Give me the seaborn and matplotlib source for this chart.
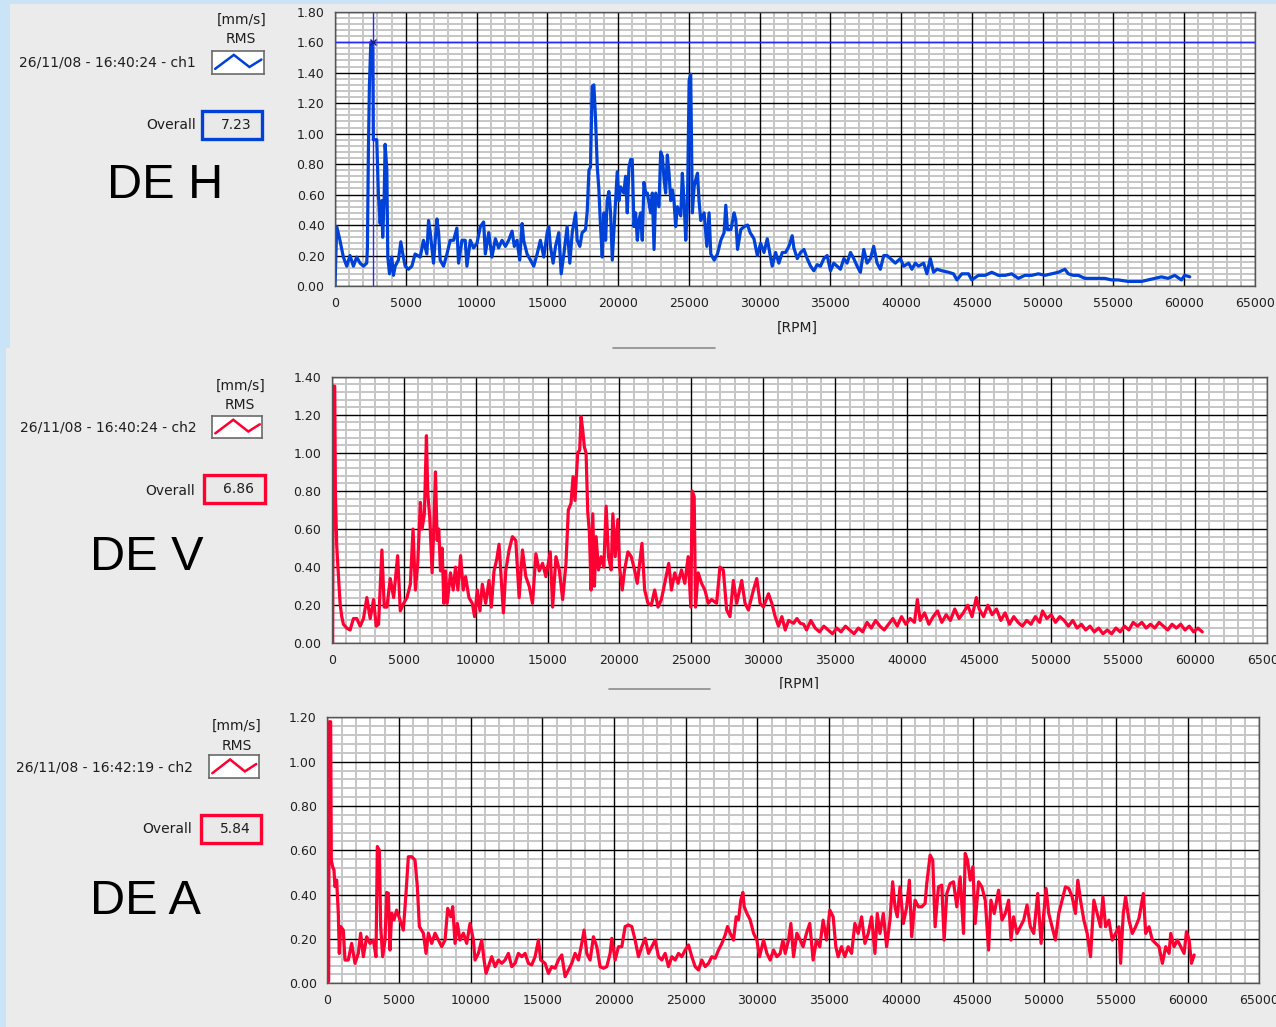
import numpy as np
import pandas as pd
import matplotlib
matplotlib.use("Agg")
import matplotlib.pyplot as plt
import seaborn as sns
from matplotlib.patches import Rectangle
from matplotlib.lines import Line2D

# ---------------- data ----------------
# DE H  (ch1, blue)
h_rpm = [0, 120, 350, 590, 830, 1060, 1300, 1530, 1770, 2010, 2240, 2290, 2360, 2430, 2530, 2670,
         2710, 2830, 2950, 3070, 3190, 3300, 3370, 3470, 3540, 3660, 3730, 3850, 4010, 4130, 4250,
         4480, 4650, 4790, 4960, 5190, 5430, 5660, 6020, 6250, 6490, 6610, 6730, 6960, 7080, 7200,
         7320, 7430, 7670, 7910, 8140, 8380, 8610, 8730, 8970, 9200, 9320, 9560, 9790, 10030, 10270,
         10500, 10620, 10860, 11090, 11330, 11560, 11800, 12040, 12270, 12510, 12670, 12860, 13050,
         13220, 13330, 13570, 13810, 14040, 14280, 14510, 14750, 14990, 15100, 15220, 15410, 15580,
         15810, 15980, 16170, 16400, 16590, 16760, 17000, 17110, 17300, 17460, 17700, 17820, 17940,
         18050, 18170, 18290, 18410, 18530, 18640, 18760, 18880, 19000, 19120, 19230, 19350, 19470,
         19590, 19710, 19940, 20060, 20180, 20410, 20530, 20650, 20770, 20890, 21000, 21120, 21240,
         21360, 21480, 21590, 21710, 21830, 21950, 22070, 22300, 22420, 22540, 22660, 22890, 23010,
         23130, 23250, 23360, 23480, 23600, 23720, 23840, 23950, 24070, 24190, 24430, 24540, 24660,
         24780, 24900, 25020, 25130, 25250, 25370, 25490, 25610, 25720, 25840, 26080, 26270, 26430,
         26550, 26790, 27020, 27260, 27490, 27610, 27730, 27970, 28200, 28320, 28440, 28670, 28910,
         29150, 29330, 29600, 29840, 30070, 30310, 30540, 30710, 30890, 31130, 31360, 31600, 31830,
         32070, 32300, 32420, 32660, 32890, 33130, 33360, 33600, 33830, 34070, 34300, 34540, 34770,
         35010, 35240, 35480, 35710, 35950, 36180, 36420, 36650, 36890, 37120, 37360, 37590, 37830,
         38060, 38300, 38530, 38770, 39000, 39240, 39590, 39940, 40180, 40530, 40760, 41000, 41230,
         41590, 41820, 42060, 42290, 42530, 42880, 43350, 43700, 43940, 44290, 44760, 44990, 45460,
         45930, 46400, 46870, 47340, 47810, 48280, 48750, 49220, 49690, 50160, 50630, 51100, 51570,
         51810, 52160, 52510, 52980, 53450, 53920, 54390, 54860, 55330, 56040, 56510, 56980, 57450,
         57920, 58390, 58860, 59330, 59800, 60030, 60390]
h_val = [0.00, 0.39, 0.30, 0.19, 0.13, 0.20, 0.13, 0.19, 0.15, 0.13, 0.15, 0.25, 0.89, 1.31, 1.60, 1.59,
         0.96, 0.96, 0.96, 0.59, 0.41, 0.56, 0.32, 0.56, 0.93, 0.77, 0.19, 0.08, 0.19, 0.07, 0.13,
         0.17, 0.29, 0.21, 0.13, 0.11, 0.13, 0.21, 0.19, 0.30, 0.21, 0.43, 0.35, 0.15, 0.30, 0.44,
         0.35, 0.17, 0.13, 0.21, 0.30, 0.30, 0.38, 0.15, 0.30, 0.30, 0.13, 0.30, 0.25, 0.28, 0.39,
         0.42, 0.21, 0.35, 0.19, 0.31, 0.25, 0.30, 0.26, 0.30, 0.36, 0.26, 0.30, 0.17,
         0.41, 0.30, 0.21, 0.17, 0.13, 0.21, 0.30, 0.19, 0.35, 0.39, 0.26, 0.15, 0.26,
         0.35, 0.08, 0.21, 0.39, 0.15, 0.35, 0.48, 0.30, 0.26, 0.35, 0.37, 0.49, 0.76,
         0.78, 1.31, 1.32, 1.09, 0.78, 0.64, 0.39, 0.19, 0.48, 0.30, 0.56, 0.62, 0.48,
         0.17, 0.37, 0.75, 0.56, 0.65, 0.61, 0.72, 0.48, 0.78, 0.83, 0.83, 0.39, 0.48,
         0.30, 0.43, 0.48, 0.30, 0.68, 0.61, 0.61, 0.48, 0.61, 0.24, 0.61, 0.52, 0.88,
         0.85, 0.70, 0.61, 0.86, 0.74, 0.56, 0.63, 0.56, 0.39, 0.52, 0.46, 0.74, 0.56,
         0.30, 0.52, 1.35, 1.39, 0.48, 0.65, 0.70, 0.74, 0.56, 0.43, 0.48, 0.26, 0.48,
         0.21, 0.17, 0.21, 0.30, 0.35, 0.53, 0.37, 0.37, 0.48, 0.43, 0.24, 0.37, 0.39,
         0.40, 0.35, 0.31, 0.20, 0.28, 0.22, 0.31, 0.22, 0.13, 0.22, 0.15, 0.22, 0.22,
         0.26, 0.33, 0.25, 0.18, 0.22, 0.24, 0.18, 0.13, 0.10, 0.14, 0.13, 0.18, 0.20,
         0.10, 0.15, 0.13, 0.11, 0.18, 0.15, 0.22, 0.18, 0.13, 0.09, 0.24, 0.15, 0.18,
         0.26, 0.15, 0.11, 0.20, 0.20, 0.18, 0.15, 0.18, 0.13, 0.15, 0.11, 0.15, 0.13,
         0.15, 0.08, 0.18, 0.09, 0.11, 0.10, 0.09, 0.08, 0.04, 0.08, 0.08, 0.04, 0.07,
         0.07, 0.09, 0.07, 0.07, 0.08, 0.05, 0.07, 0.07, 0.08, 0.07, 0.08, 0.09, 0.11,
         0.08, 0.07, 0.07, 0.05, 0.05, 0.05, 0.05, 0.04, 0.04, 0.03, 0.03, 0.03, 0.04,
         0.05, 0.06, 0.05, 0.07, 0.04, 0.07, 0.06]

# DE V  (ch2, red)
v_rpm = [0, 70, 116, 209, 256, 349, 465, 582, 698, 814, 1047, 1279, 1512, 1745, 1977, 2210, 2442,
         2675, 2908, 3094, 3256, 3489, 3652, 3838, 4071, 4303, 4582, 4768, 5001, 5234, 5466, 5652,
         5815, 5978, 6164, 6280, 6443, 6583, 6676, 6815, 6978, 7094, 7211, 7327, 7443, 7560, 7676,
         7792, 7908, 8025, 8257, 8443, 8606, 8769, 8955, 9141, 9304, 9537, 9769, 9932, 10118, 10304,
         10467, 10700, 10932, 11095, 11281, 11467, 11630, 11746, 11932, 12095, 12328, 12560, 12793,
         13026, 13258, 13491, 13723, 13956, 14189, 14421, 14654, 14886, 15189, 15352, 15584, 15817,
         16049, 16282, 16445, 16631, 16771, 16910, 17096, 17236, 17329, 17445, 17561, 17678, 17794,
         17910, 18027, 18143, 18259, 18376, 18538, 18724, 18910, 19073, 19236, 19422, 19538, 19701,
         19887, 20004, 20190, 20353, 20585, 20818, 21050, 21236, 21399, 21562, 21748, 21981, 22213,
         22446, 22679, 22911, 23144, 23423, 23609, 23842, 24074, 24307, 24539, 24772, 24958, 25051,
         25191, 25284, 25470, 25702, 25935, 26168, 26400, 26749, 26982, 27214, 27447, 27679, 27912,
         28145, 28494, 28726, 28959, 29308, 29540, 29773, 30005, 30354, 30587, 30820, 31052, 31285,
         31517, 31750, 32099, 32331, 32564, 32800, 33000, 33300, 33600, 33900, 34200, 34500, 34800,
         35100, 35400, 35700, 36000, 36300, 36600, 36900, 37200, 37500, 37800, 38100, 38400, 38700,
         39000, 39300, 39600, 39900, 40200, 40500, 40700, 40900, 41200, 41500, 41800, 42100, 42400,
         42700, 43000, 43300, 43600, 43900, 44200, 44500, 44800, 45000, 45300, 45600, 45900, 46200,
         46500, 46800, 47100, 47400, 47700, 48000, 48300, 48600, 48900, 49200, 49400, 49700, 50000,
         50300, 50600, 50900, 51200, 51500, 51800, 52100, 52400, 52700, 53000, 53300, 53600, 53900,
         54200, 54500, 54800, 55100, 55400, 55700, 56000, 56300, 56600, 56900, 57200, 57500, 57800,
         58100, 58400, 58700, 59000, 59300, 59600, 59900, 60200, 60500]
v_val = [0.00, 0.00, 1.35, 1.35, 0.79, 0.51, 0.36, 0.21, 0.14, 0.10, 0.08, 0.07, 0.13, 0.13, 0.09, 0.13, 0.24,
         0.13, 0.23, 0.09, 0.10, 0.49, 0.19, 0.19, 0.34, 0.24, 0.46, 0.17, 0.21, 0.24, 0.31, 0.60,
         0.28, 0.42, 0.74, 0.60, 0.68, 1.09, 0.79, 0.66, 0.37, 0.60, 0.90, 0.54, 0.60, 0.38, 0.50,
         0.21, 0.38, 0.21, 0.37, 0.28, 0.40, 0.28, 0.46, 0.28, 0.35, 0.24, 0.21, 0.14, 0.28, 0.17,
         0.31, 0.21, 0.33, 0.19, 0.38, 0.44, 0.52, 0.38, 0.16, 0.38, 0.49, 0.56, 0.54,
         0.24, 0.49, 0.35, 0.30, 0.21, 0.47, 0.38, 0.42, 0.35, 0.48, 0.19, 0.455, 0.385,
         0.23, 0.42, 0.70, 0.735, 0.875, 0.75, 1.00, 1.015, 1.19, 1.12, 1.03, 1.00, 0.69,
         0.58, 0.28, 0.68, 0.30, 0.56, 0.385, 0.455, 0.40, 0.72, 0.455, 0.385, 0.68, 0.455,
         0.65, 0.40, 0.28, 0.385, 0.48, 0.455, 0.385, 0.315, 0.42, 0.525, 0.28, 0.21, 0.20,
         0.28, 0.19, 0.23, 0.315, 0.42, 0.28, 0.37, 0.315, 0.385, 0.315, 0.455, 0.19, 0.80,
         0.77, 0.19, 0.37, 0.315, 0.28, 0.21, 0.23, 0.21, 0.40, 0.385, 0.175, 0.14, 0.33,
         0.21, 0.33, 0.21, 0.175, 0.28, 0.34, 0.21, 0.19, 0.26, 0.21, 0.14, 0.09, 0.14,
         0.07, 0.12, 0.105, 0.13, 0.105, 0.10, 0.07, 0.12, 0.08, 0.06, 0.09, 0.07, 0.05,
         0.08, 0.06, 0.09, 0.07, 0.05, 0.08, 0.06, 0.11, 0.08, 0.12, 0.09, 0.07, 0.10,
         0.13, 0.09, 0.14, 0.10, 0.13, 0.11, 0.23, 0.12, 0.16, 0.10, 0.14, 0.17, 0.11,
         0.15, 0.12, 0.18, 0.13, 0.16, 0.20, 0.14, 0.24, 0.18, 0.14, 0.20, 0.15, 0.18,
         0.12, 0.16, 0.10, 0.14, 0.11, 0.09, 0.12, 0.10, 0.14, 0.11, 0.17, 0.13, 0.15,
         0.11, 0.14, 0.12, 0.09, 0.12, 0.08, 0.10, 0.07, 0.09, 0.06, 0.08, 0.05, 0.07,
         0.05, 0.08, 0.06, 0.09, 0.07, 0.11, 0.09, 0.11, 0.08, 0.10, 0.08, 0.11, 0.09,
         0.07, 0.10, 0.08, 0.10, 0.07, 0.09, 0.06, 0.08, 0.06]

# DE A  (ch2, red)
a_rpm = [0, 93, 140, 233, 279, 372, 465, 535, 651, 767, 837, 930, 1116, 1233, 1465, 1698, 1931, 2163,
         2326, 2512, 2745, 2977, 3210, 3396, 3489, 3629, 3722, 3861, 4024, 4140, 4257, 4373, 4489,
         4652, 4838, 5071, 5303, 5489, 5652, 5885, 6117, 6280, 6420, 6699, 6885, 7048, 7280, 7513,
         7746, 7978, 8211, 8397, 8606, 8746, 8909, 9071, 9257, 9490, 9723, 9955, 10188, 10304, 10537,
         10769, 10932, 11072, 11235, 11467, 11700, 11932, 12165, 12398, 12630, 12863, 13095, 13328,
         13561, 13793, 14026, 14258, 14491, 14724, 14886, 15189, 15422, 15654, 15887, 16119, 16352,
         16584, 16817, 17050, 17282, 17515, 17747, 17910, 18096, 18329, 18561, 18794, 19026, 19259,
         19492, 19724, 19841, 20073, 20306, 20539, 20771, 21004, 21236, 21469, 21702, 21934, 22167,
         22399, 22632, 22865, 23097, 23330, 23562, 23795, 24028, 24260, 24493, 24725, 24958, 25191,
         25423, 25656, 25888, 26121, 26354, 26586, 26819, 27051, 27284, 27517, 27749, 27912, 28098,
         28331, 28517, 28680, 28842, 28982, 29075, 29261, 29494, 29727, 29959, 30145, 30424, 30657,
         30889, 31122, 31354, 31587, 31773, 31935, 32168, 32331, 32517, 32750, 32982, 33182, 33415,
         33648, 33881, 34114, 34347, 34580, 34814, 35047, 35280, 35466, 35629, 35862, 36096, 36329,
         36562, 36795, 37028, 37261, 37494, 37727, 37960, 38193, 38357, 38543, 38776, 39009, 39242,
         39429, 39592, 39755, 39942, 40175, 40408, 40594, 40758, 40991, 41224, 41457, 41690, 41807,
         42040, 42226, 42389, 42622, 42855, 43019, 43205, 43438, 43671, 43904, 44138, 44371, 44487,
         44650, 44837, 45023, 45186, 45420, 45653, 45886, 46119, 46282, 46515, 46818, 47052, 47285,
         47518, 47681, 47868, 48101, 48334, 48567, 48800, 49033, 49266, 49546, 49779, 49966, 50129,
         50315, 50548, 50781, 51014, 51248, 51481, 51714, 51947, 52180, 52343, 52530, 52763, 52996,
         53229, 53462, 53695, 53928, 54091, 54278, 54511, 54744, 54977, 55210, 55327, 55513, 55676,
         55909, 56142, 56376, 56609, 56912, 57075, 57308, 57541, 57774, 58007, 58240, 58473, 58706,
         58823, 59056, 59289, 59522, 59755, 59919, 60105, 60268, 60455]
a_val = [0.00, 0.01, 1.18, 1.18, 0.556, 0.526, 0.511, 0.436, 0.466, 0.316, 0.135, 0.256, 0.24, 0.105, 0.105,
         0.18, 0.09, 0.135, 0.226, 0.12, 0.21, 0.18, 0.195, 0.12, 0.617, 0.60, 0.256, 0.12, 0.195, 0.41,
         0.406, 0.15, 0.316, 0.286, 0.33, 0.286, 0.24, 0.406, 0.571, 0.571, 0.556, 0.436, 0.256, 0.226,
         0.135, 0.226, 0.18, 0.226, 0.195, 0.165, 0.195, 0.338, 0.30, 0.346, 0.18, 0.27, 0.195, 0.226,
         0.18, 0.27, 0.195, 0.105, 0.135, 0.195, 0.105, 0.045, 0.075, 0.12, 0.075, 0.105, 0.09, 0.105,
         0.135, 0.075, 0.09, 0.135, 0.12, 0.135, 0.09, 0.083, 0.12, 0.195, 0.105, 0.09, 0.045, 0.075,
         0.068, 0.105, 0.128, 0.03, 0.06, 0.09, 0.135, 0.105, 0.18, 0.24, 0.135, 0.105, 0.21, 0.165,
         0.075, 0.068, 0.075, 0.135, 0.203, 0.105, 0.165, 0.165, 0.256, 0.263, 0.256, 0.195, 0.12,
         0.165, 0.203, 0.135, 0.165, 0.195, 0.12, 0.105, 0.135, 0.075, 0.12, 0.105, 0.135, 0.12, 0.15,
         0.173, 0.12, 0.075, 0.06, 0.105, 0.075, 0.09, 0.12, 0.113, 0.15, 0.18, 0.218, 0.256, 0.226,
         0.195, 0.30, 0.286, 0.376, 0.41, 0.346, 0.316, 0.286, 0.226, 0.195, 0.12, 0.195, 0.135,
         0.105, 0.15, 0.12, 0.135, 0.195, 0.135, 0.195, 0.27, 0.12, 0.226, 0.195, 0.165, 0.225,
         0.27, 0.105, 0.195, 0.165, 0.285, 0.195, 0.33, 0.30, 0.165, 0.12, 0.165, 0.12, 0.165,
         0.135, 0.27, 0.225, 0.30, 0.18, 0.225, 0.30, 0.135, 0.315, 0.225, 0.315, 0.165, 0.285,
         0.458, 0.345, 0.30, 0.435, 0.27, 0.345, 0.465, 0.21, 0.375, 0.345, 0.345, 0.36, 0.45,
         0.578, 0.556, 0.255, 0.435, 0.443, 0.195, 0.405, 0.45, 0.458, 0.345, 0.48, 0.225, 0.586,
         0.556, 0.465, 0.526, 0.27, 0.458, 0.435, 0.375, 0.15, 0.375, 0.315, 0.42, 0.285, 0.315,
         0.375, 0.195, 0.30, 0.225, 0.255, 0.285, 0.353, 0.255, 0.225, 0.405, 0.18, 0.315, 0.428,
         0.315, 0.255, 0.195, 0.315, 0.375, 0.435, 0.428, 0.39, 0.315, 0.465, 0.375, 0.285, 0.225,
         0.12, 0.375, 0.315, 0.255, 0.39, 0.255, 0.285, 0.195, 0.225, 0.255, 0.09, 0.315, 0.39,
         0.285, 0.225, 0.255, 0.293, 0.405, 0.225, 0.255, 0.195, 0.18, 0.165, 0.09, 0.165, 0.135,
         0.225, 0.165, 0.195, 0.165, 0.135, 0.233, 0.195, 0.09, 0.128]

panel_names = ["DE H", "DE V", "DE A"]
stamps = ["26/11/08 - 16:40:24 - ch1", "26/11/08 - 16:40:24 - ch2", "26/11/08 - 16:42:19 - ch2"]
overall = ["7.23", "6.86", "5.84"]
y_max = [1.8, 1.4, 1.2]
x_ticks = list(range(0, 65001, 5000))
cursor_rpm, cursor_val = 2670, 1.60

# ---------------- figure ----------------
W, H = 1276, 1027
sns.set_theme(style="white")
plt.rcParams["font.family"] = ["DejaVu Sans"]

fig = plt.figure(figsize=(W / 100, H / 100), dpi=100, facecolor="#c8e4f6")

def fbox(x0, y0, x1, y1):
    return [x0 / W, 1 - y1 / H, (x1 - x0) / W, (y1 - y0) / H]

GRAY = "#ebebeb"
BLUE = "#0042d8"
RED = "#ff0033"

# panel backgrounds
for (x0, y0, x1, y1), z in [((10, 4, W, 348), -1), ((6, 348, W, 689), -1), ((6, 689, W, H), -0.5)]:
    b = fbox(x0, y0, x1, y1)
    fig.add_artist(Rectangle((b[0], b[1]), b[2], b[3], transform=fig.transFigure,
                             facecolor=GRAY, edgecolor="none", zorder=z))

# splitter handles
for (x0, x1, yy) in [(613, 715, 348), (609, 710, 688.5)]:
    fig.add_artist(Line2D([x0 / W, x1 / W], [1 - yy / H, 1 - yy / H], transform=fig.transFigure,
                          color="#8c8c8c", lw=1.2, zorder=-0.4))

plot_boxes = [(335, 11.7, 1255, 286), (331.7, 376.7, 1267, 643.3), (327.3, 717.3, 1259.3, 983.3)]
series = [(h_rpm, h_val, BLUE), (v_rpm, v_val, RED), (a_rpm, a_val, RED)]

axes = []
for i, ((x0, y0, x1, y1), (xr, yv, col)) in enumerate(zip(plot_boxes, series)):
    ax = fig.add_axes(fbox(x0, y0, x1, y1))
    ax.set_zorder(0)
    ax.set_facecolor("white")
    ymaj = np.round(np.arange(0, y_max[i] + 1e-6, 0.2), 2)
    ymin = np.round(np.arange(0, y_max[i] + 1e-6, 0.04), 2)
    xmin = np.arange(0, 65001, 1000)
    ax.set_xlim(0, 65000)
    ax.set_ylim(0, y_max[i])
    ax.set_xticks(x_ticks)
    ax.set_xticks(xmin, minor=True)
    ax.set_yticks(ymaj)
    ax.set_yticks(ymin, minor=True)
    ax.set_xticklabels([str(t) for t in x_ticks])
    ax.set_yticklabels([f"{t:.2f}" for t in ymaj])
    # light minor grid (axis gridlines), heavy major grid drawn on top of it
    ax.grid(which="minor", color="#c6c6c6", lw=1.4)
    ax.grid(which="major", visible=False)
    ax.set_axisbelow(True)
    for t in x_ticks:
        ax.axvline(t, color="#000000", lw=1.0, zorder=1.5)
    for t in ymaj:
        ax.axhline(t, color="#000000", lw=1.0, zorder=1.5)
    df = pd.DataFrame({"rpm": xr, "val": yv})
    sns.lineplot(data=df, x="rpm", y="val", ax=ax, color=col, linewidth=2.3,
                 estimator=None, sort=False, legend=False, zorder=3)
    ax.tick_params(which="minor", length=0)
    ax.tick_params(axis="x", which="major", direction="out", length=5.5, width=1,
                   color="#202020", labelsize=9, pad=2.5, labelcolor="#202020")
    ax.tick_params(axis="y", which="major", direction="out", length=6, width=1,
                   color="#202020", labelsize=9, pad=1.5, labelcolor="#202020")
    ax.set_xlabel("")
    ax.set_ylabel("")
    for s in ax.spines.values():
        s.set_color("#555555")
        s.set_linewidth(1.0)
        s.set_zorder(4)
    axes.append(ax)

# cursor in top plot
axes[0].axvline(cursor_rpm, color="#2828ff", lw=1.0, zorder=4)
axes[0].axhline(cursor_val, color="#2828ff", lw=1.0, zorder=4)
axes[0].plot([cursor_rpm], [cursor_val], marker="x", ms=5, mew=1.0, color="#1a1a90", zorder=5)

# x-axis titles
for (xc, yc) in [(797, 327.5), (799, 683.5), (793, 1022)]:
    fig.text(xc / W, 1 - yc / H, "[RPM]", ha="center", va="center", fontsize=10,
             color="#202020", zorder=-0.8)

# left-side annotations
left_info = [
    dict(unit=(242, 20), rms=(241, 39), leg=(212, 50.7, 264, 74), stamp=(196, 62.5),
         ov=(196, 125), box=(201.7, 110.7, 262.3, 139.3), val_r=252, name=(107, 185), col=BLUE),
    dict(unit=(241, 385.7), rms=(240, 405), leg=(212.3, 415.7, 262.3, 438.3), stamp=(196.7, 427.3),
         ov=(195, 490.7), box=(204.3, 475, 265, 503.3), val_r=254, name=(90, 558), col=RED),
    dict(unit=(236.5, 725.8), rms=(236.7, 745.7), leg=(209.3, 755.3, 258.7, 778.3), stamp=(192.7, 767.3),
         ov=(191.7, 829.3), box=(201, 815, 261, 843.3), val_r=250.7, name=(90, 902), col=RED),
]
TXT = "#1e1e1e"
for i, d in enumerate(left_info):
    fig.text(d["unit"][0] / W, 1 - d["unit"][1] / H, "[mm/s]", ha="center", va="center",
             fontsize=10, color=TXT)
    fig.text(d["rms"][0] / W, 1 - d["rms"][1] / H, "RMS", ha="center", va="center",
             fontsize=10, color=TXT)
    fig.text(d["stamp"][0] / W, 1 - d["stamp"][1] / H, stamps[i], ha="right", va="center",
             fontsize=10, color=TXT)
    fig.text(d["ov"][0] / W, 1 - d["ov"][1] / H, "Overall", ha="right", va="center",
             fontsize=10, color=TXT)
    # legend glyph
    lx0, ly0, lx1, ly1 = d["leg"]
    lax = fig.add_axes(fbox(lx0, ly0, lx1, ly1))
    lax.set_facecolor("white")
    lax.set_xlim(0, 1)
    lax.set_ylim(0, 1)
    lax.set_xticks([])
    lax.set_yticks([])
    for s in lax.spines.values():
        s.set_color("#6a6a6a")
        s.set_linewidth(1.2)
    lax.plot([0.06, 0.42, 0.72, 0.95], [0.22, 0.82, 0.3, 0.62], color=d["col"], lw=1.8,
             solid_joinstyle="miter")
    # overall box
    bx0, by0, bx1, by1 = d["box"]
    b = fbox(bx0, by0, bx1, by1)
    fig.add_artist(Rectangle((b[0], b[1]), b[2], b[3], transform=fig.transFigure,
                             facecolor="#e9e9e9", edgecolor=d["col"], lw=2.4, zorder=2))
    fig.text(d["val_r"] / W, 1 - (by0 + by1) / 2 / H, overall[i], ha="right", va="center",
             fontsize=10, color=TXT, zorder=3)
    # big name
    fig.text(d["name"][0] / W, 1 - d["name"][1] / H, panel_names[i], ha="left", va="center",
             fontsize=35, color="#000000", family=["Liberation Sans", "DejaVu Sans"])

fig.savefig("out.png", dpi=100, facecolor=fig.get_facecolor())
